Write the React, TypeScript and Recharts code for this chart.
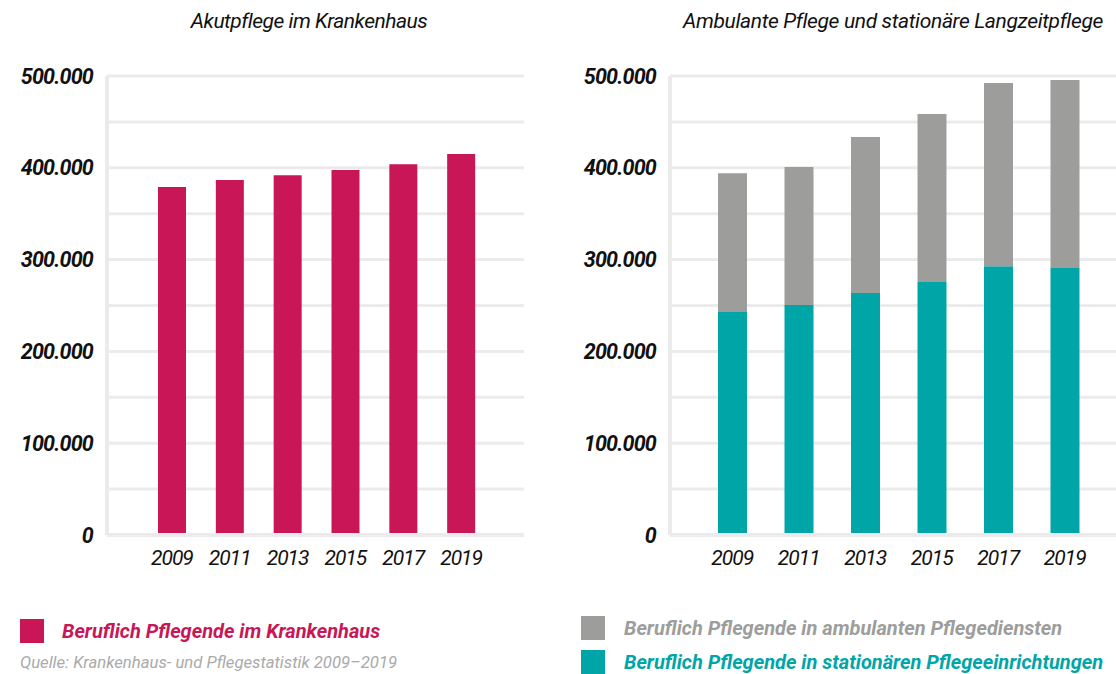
import React from 'react';
import { BarChart, Bar, XAxis, YAxis, CartesianGrid } from 'recharts';

const years = ['2009', '2011', '2013', '2015', '2017', '2019'];
const krankenhaus = [379000, 386700, 392000, 397600, 404000, 415000];
const stationaer = [243000, 250500, 263600, 275600, 292800, 290800];
const ambulant = [151000, 150500, 170000, 183000, 199600, 204800];
const yTicks = [0, 50000, 100000, 150000, 200000, 250000, 300000, 350000, 400000, 450000, 500000];

const CRIMSON = '#c81657';
const TEAL = '#00a5a8';
const GRAY = '#9d9d9b';
const GRID = '#ebebeb';
const FONT = 'Roboto, "Noto Sans", sans-serif';

const leftData = years.map((y, i) => ({ year: y, krankenhaus: krankenhaus[i] }));
const rightData = years.map((y, i) => ({ year: y, stationaer: stationaer[i], ambulant: ambulant[i] }));

const fmtY = (v: number) => {
  if (v % 100000 !== 0) return '';
  return v === 0 ? '0' : `${v / 1000}.000`;
};

const yTick = { fill: '#111', fontSize: 21.5, fontWeight: 700, fontStyle: 'italic', fontFamily: FONT, letterSpacing: -0.8 };
const xTick = { fill: '#111', fontSize: 21, fontStyle: 'italic', fontFamily: FONT, letterSpacing: -1 };

function Swatch({ color, top, left }: { color: string; top: number; left: number }) {
  return <div style={{ position: 'absolute', left, top, width: 24, height: 24, background: color }} />;
}

export default function App() {
  const legendText: React.CSSProperties = {
    position: 'absolute',
    fontFamily: FONT,
    fontStyle: 'italic',
    fontWeight: 700,
    fontSize: 20,
    whiteSpace: 'nowrap',
    lineHeight: '24px',
  };
  const title: React.CSSProperties = {
    position: 'absolute',
    top: 9,
    textAlign: 'center',
    fontStyle: 'italic',
    fontSize: 21,
    color: '#111',
    whiteSpace: 'nowrap',
  };
  return (
    <div style={{ position: 'absolute', left: 0, top: 0, width: 1116, height: 674, background: '#fff', fontFamily: FONT, overflow: 'hidden' }}>
      <div style={{ ...title, left: 107, width: 404, letterSpacing: -0.5 }}>Akutpflege im Krankenhaus</div>
      <div style={{ ...title, left: 670, width: 446, letterSpacing: -0.35 }}>Ambulante Pflege und stationäre Langzeitpflege</div>

      <div style={{ position: 'absolute', left: 0, top: 0 }}>
        <BarChart width={560} height={600} data={leftData} margin={{ top: 76, right: 36, left: 0, bottom: 25 }}>
          <CartesianGrid vertical={false} stroke={GRID} strokeWidth={3} />
          <XAxis dataKey="year" height={40} padding={{ left: 36, right: 34 }} axisLine={{ stroke: GRID, strokeWidth: 4 }} tickLine={false} tickSize={0} tickMargin={15} tick={xTick} />
          <YAxis width={107} domain={[0, 500000]} ticks={yTicks} interval={0} tickFormatter={fmtY} axisLine={{ stroke: GRID, strokeWidth: 4 }} tickLine={false} tickSize={0} tickMargin={14} tick={yTick} />
          <Bar dataKey="krankenhaus" fill={CRIMSON} barSize={28} isAnimationActive={false} />
        </BarChart>
      </div>

      <div style={{ position: 'absolute', left: 560, top: 0 }}>
        <BarChart width={556} height={600} data={rightData} margin={{ top: 76, right: 0, left: 0, bottom: 25 }}>
          <CartesianGrid vertical={false} stroke={GRID} strokeWidth={3} />
          <XAxis dataKey="year" height={40} padding={{ left: 29, right: 18 }} axisLine={{ stroke: GRID, strokeWidth: 4 }} tickLine={false} tickSize={0} tickMargin={15} tick={xTick} />
          <YAxis width={110} domain={[0, 500000]} ticks={yTicks} interval={0} tickFormatter={fmtY} axisLine={{ stroke: GRID, strokeWidth: 4 }} tickLine={false} tickSize={0} tickMargin={14} tick={yTick} />
          <Bar dataKey="stationaer" stackId="a" fill={TEAL} barSize={29} isAnimationActive={false} />
          <Bar dataKey="ambulant" stackId="a" fill={GRAY} barSize={29} isAnimationActive={false} />
        </BarChart>
      </div>

      <Swatch color={CRIMSON} left={20} top={619} />
      <div style={{ ...legendText, left: 62, top: 619, color: CRIMSON }}>Beruflich Pflegende im Krankenhaus</div>
      <div style={{ position: 'absolute', left: 20, top: 652, fontStyle: 'italic', fontSize: 16.7, color: '#aaa', whiteSpace: 'nowrap', lineHeight: '22px' }}>
        Quelle: Krankenhaus- und Pflegestatistik 2009–2019
      </div>

      <Swatch color={GRAY} left={581} top={616} />
      <div style={{ ...legendText, left: 624, top: 616, color: GRAY }}>Beruflich Pflegende in ambulanten Pflegediensten</div>
      <Swatch color={TEAL} left={581} top={650} />
      <div style={{ ...legendText, left: 624, top: 650, color: TEAL }}>Beruflich Pflegende in stationären Pflegeeinrichtungen</div>
    </div>
  );
}
